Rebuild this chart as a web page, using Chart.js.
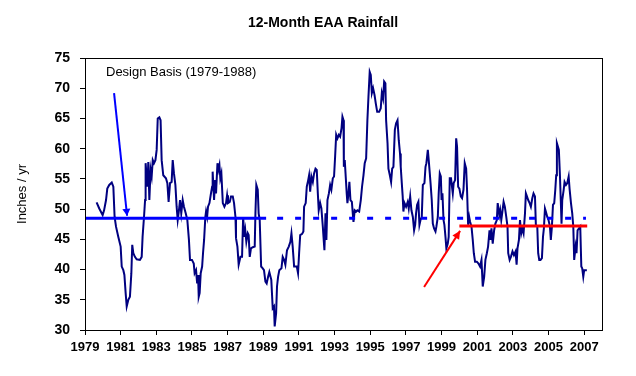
<!DOCTYPE html>
<html><head><meta charset="utf-8">
<script src="https://cdn.jsdelivr.net/npm/chart.js@4"></script>
<style>html,body{margin:0;padding:0;background:#fff}#wrap{width:636px;height:376px}</style>
</head><body><div id="wrap"><canvas id="c" width="636" height="376"></canvas></div>
<script>
const chartTitle = '12-Month EAA Rainfall';
const yAxisTitle = 'Inches / yr';
const noteText = 'Design Basis (1979-1988)';
const xTickYears = [1979,1981,1983,1985,1987,1989,1991,1993,1995,1997,1999,2001,2003,2005,2007];
const yMin = 30, yMax = 75, yStep = 5;

const sampleYears = [
1979.65,1979.80,1979.99,1980.07,1980.18,1980.25,1980.36,1980.50,1980.59,1980.66,1980.74,1980.87,1981.00,1981.06,1981.15,1981.21,1981.28,1981.34,1981.43,1981.52,1981.60,1981.65,1981.71,1981.80,1981.90,1982.08,1982.18,1982.23,1982.31,1982.37,1982.40,1982.50,1982.55,1982.61,1982.68,1982.74,1982.80,1982.87,1982.95,1983.02,1983.08,1983.17,1983.24,1983.30,1983.39,1983.54,1983.62,1983.69,1983.77,1983.86,1983.92,1983.99,1984.07,1984.14,1984.20,1984.27,1984.33,1984.40,1984.48,1984.55,1984.65,1984.74,1984.83,1984.89,1985.00,
1985.10,1985.15,1985.23,1985.29,1985.34,1985.38,1985.43,1985.49,1985.57,1985.62,1985.68,1985.75,1985.79,1985.85,1985.90,1985.98,1986.05,1986.13,1986.16,1986.24,1986.30,1986.35,1986.43,1986.48,1986.54,1986.59,1986.65,1986.73,1986.82,1986.91,1986.97,1987.02,1987.12,1987.19,1987.29,1987.36,1987.44,1987.47,1987.55,1987.62,1987.72,1987.81,1987.87,1987.94,1987.99,1988.05,1988.13,1988.18,1988.24,1988.31,1988.41,1988.52,1988.56,1988.61,1988.69,1988.74,1988.80,1988.88,1988.97,1989.04,1989.12,1989.19,1989.27,1989.34,1989.45,1989.53,1989.60,1989.64,1989.72,1989.77,1989.83,1989.90,1990.02,1990.09,1990.17,1990.24,1990.33,1990.43,1990.52,1990.58,1990.65,1990.73,1990.88,1990.95,
1991.01,1991.07,1991.18,1991.25,1991.29,1991.38,1991.44,1991.52,1991.57,1991.63,1991.70,1991.78,1991.85,1991.93,1992.00,1992.06,1992.11,1992.19,1992.26,1992.34,1992.39,1992.43,1992.49,1992.54,1992.60,1992.68,1992.75,1992.82,1992.90,1992.97,1993.03,1993.09,1993.16,1993.24,1993.31,1993.39,1993.44,1993.50,1993.52,1993.57,1993.63,1993.68,1993.72,1993.78,1993.83,1993.89,1993.97,1994.02,1994.06,1994.13,1994.21,1994.28,1994.38,1994.47,1994.54,1994.62,1994.69,1994.77,1994.84,1994.90,1994.97,1995.03,1995.09,1995.16,1995.24,1995.31,1995.39,1995.50,1995.59,1995.65,1995.72,1995.78,1995.85,1995.89,1995.97,1996.02,1996.10,1996.17,1996.23,1996.30,1996.38,1996.45,1996.53,1996.60,1996.67,1996.71,1996.77,1996.82,1996.86,1996.92,
1997.01,1997.10,1997.16,1997.24,1997.31,1997.39,1997.46,1997.52,1997.57,1997.63,1997.70,1997.76,1997.82,1997.89,1997.95,1998.04,1998.10,1998.15,1998.23,1998.28,1998.34,1998.39,1998.45,1998.51,1998.58,1998.66,1998.71,1998.79,1998.84,1998.90,1998.96,1999.00,1999.05,1999.11,1999.16,1999.22,1999.27,1999.35,1999.40,1999.46,1999.53,1999.63,1999.68,1999.76,1999.82,1999.87,1999.93,2000.00,2000.08,2000.15,2000.23,2000.30,2000.38,2000.43,2000.49,2000.55,2000.60,2000.68,2000.75,2000.81,2000.88,2000.98,2001.07,2001.16,2001.24,2001.31,2001.39,2001.46,2001.54,2001.61,2001.69,2001.74,2001.80,2001.87,2001.95,2002.02,2002.10,2002.15,
2002.24,2002.29,2002.35,2002.40,2002.48,2002.55,2002.63,2002.70,2002.74,2002.82,2002.89,2002.98,2003.06,2003.15,2003.21,2003.26,2003.34,2003.40,2003.47,2003.53,2003.60,2003.68,2003.73,2003.79,2003.86,2003.94,2004.01,2004.09,2004.16,2004.24,2004.29,2004.37,2004.42,2004.48,2004.55,2004.63,2004.69,2004.74,2004.80,2004.85,2004.93,2005.00,2005.08,2005.13,2005.19,2005.25,2005.32,2005.38,2005.43,2005.47,2005.53,2005.58,2005.64,2005.70,2005.73,2005.77,2005.85,2005.90,2005.98,2006.05,2006.13,2006.18,2006.26,2006.33,2006.39,2006.44,2006.52,2006.57,2006.63,2006.71,2006.78,2006.84,2006.89,2006.95,2007.00,2007.08,2007.15
];
const rainfall = [
51.1,50.1,49.0,49.8,51.5,53.4,54.0,54.4,53.7,48.7,47.1,45.4,43.8,40.5,39.9,39.1,36.1,33.9,35.0,35.5,39.4,44.1,42.7,42.1,41.7,41.6,42.1,45.4,48.7,51.5,57.6,53.7,57.8,51.5,56.5,55.4,58.1,57.6,58.1,59.8,65.0,65.2,64.7,58.1,55.6,55.1,54.3,51.2,54.3,54.5,58.1,55.9,54.0,50.4,48.2,49.8,51.5,49.3,51.5,50.4,49.3,48.2,44.9,41.6,41.6,
41.0,39.4,39.9,37.7,39.1,35.5,36.1,39.4,40.5,42.7,44.9,48.7,49.6,48.7,50.4,51.0,52.3,53.7,56.2,51.5,54.8,52.6,57.6,56.5,57.3,55.1,55.9,51.0,50.4,51.0,52.3,51.0,51.2,52.1,52.1,51.0,48.7,45.2,43.8,40.8,42.1,42.1,48.7,45.4,46.5,44.6,46.0,45.7,42.1,43.5,43.7,43.8,49.3,54.0,53.2,49.3,48.2,40.5,40.2,39.9,38.0,37.7,38.8,39.6,38.3,33.6,33.9,30.6,32.8,37.2,38.8,39.9,40.2,42.1,41.6,40.8,43.2,43.8,44.6,46.0,43.8,40.5,40.5,39.4,
42.7,45.7,45.9,46.3,50.4,51.0,53.7,54.8,55.6,52.9,55.4,54.5,55.9,56.7,56.5,52.6,49.8,51.0,50.1,47.1,44.9,43.2,49.3,44.9,51.5,52.6,54.0,53.2,55.1,55.4,58.7,62.3,61.7,62.3,62.0,63.4,65.3,64.7,57.0,58.1,55.1,52.6,51.0,52.6,54.5,51.5,51.2,49.3,47.9,49.8,49.6,49.8,49.6,51.5,53.7,55.6,57.6,58.4,64.7,68.6,72.7,72.2,69.2,70.0,68.9,67.5,66.1,66.1,66.7,69.2,68.3,71.1,70.8,64.7,60.9,56.7,55.6,54.5,56.7,57.0,63.1,64.2,64.7,61.4,59.2,57.0,54.3,52.1,49.6,51.0,
50.4,51.2,50.1,52.1,49.8,48.7,46.5,47.4,49.3,50.7,51.2,47.4,48.2,48.7,54.0,54.3,57.0,57.6,59.8,58.1,55.9,54.0,51.5,47.6,46.8,46.3,47.1,48.7,52.6,55.9,55.4,51.5,52.6,48.2,47.4,45.4,43.5,44.3,45.4,55.1,55.1,52.6,54.3,54.8,61.7,60.3,53.7,53.4,52.1,51.8,53.2,57.6,56.7,53.2,47.4,48.7,47.9,47.1,44.9,42.7,41.3,41.3,41.0,40.5,41.6,37.2,38.8,41.6,42.7,43.8,46.5,44.9,46.8,44.3,46.5,47.6,48.2,51.0,
49.0,49.8,48.2,49.3,51.2,50.4,48.7,47.1,42.7,41.6,42.1,43.0,42.4,43.0,40.8,43.5,44.9,48.2,46.0,46.8,46.0,49.3,52.6,52.1,51.5,51.0,50.4,51.8,52.6,52.1,47.4,47.1,42.7,41.6,41.6,41.9,45.4,46.8,50.1,49.6,48.7,48.2,47.1,44.9,47.1,50.7,51.0,53.2,55.6,60.9,60.3,59.8,55.6,50.4,47.6,51.5,53.2,54.5,54.0,54.3,55.4,53.4,51.0,49.3,47.1,41.6,43.8,42.7,46.5,46.8,47.1,40.5,40.2,38.8,39.9,39.9,39.9
];

const designBasis = 48.5;
const designSolidYears = [1979, 1989.16];
const designDashedYears = [1989.16, 2007.1];
const recentAverage = 47.2;
const recentYears = [2000.0, 2007.17];
const blueArrowYears = [1980.63, 1981.36];
const blueArrowValues = [69.2, 48.9];
const redArrowYears = [1998.02, 2000.04];
const redArrowValues = [37.1, 46.4];

const FONT = "'Liberation Sans', Arial, sans-serif";

const pts = (xs, ys) => xs.map((x, i) => ({x, y: Array.isArray(ys) ? ys[i] : ys}));

const decor = {
  id: 'decor',
  afterDatasetsDraw(chart) {
    const {ctx} = chart;
    const xs = chart.scales.x, ys = chart.scales.y;
    const head = (xArr, yArr, color, len, half) => {
      const x1 = xs.getPixelForValue(xArr[0]), y1 = ys.getPixelForValue(yArr[0]);
      const x2 = xs.getPixelForValue(xArr[1]), y2 = ys.getPixelForValue(yArr[1]);
      const ang = Math.atan2(y2 - y1, x2 - x1);
      ctx.save();
      ctx.fillStyle = color;
      ctx.translate(x2, y2); ctx.rotate(ang);
      ctx.beginPath(); ctx.moveTo(0, 0); ctx.lineTo(-len, -half); ctx.lineTo(-len, half); ctx.closePath(); ctx.fill();
      ctx.restore();
    };
    head(blueArrowYears, blueArrowValues, '#0000FF', 7, 4);
    head(redArrowYears, redArrowValues, '#FF0000', 8, 4);
  },
  afterDraw(chart) {
    const {ctx, chartArea: a} = chart;
    ctx.save();
    ctx.strokeStyle = '#000'; ctx.lineWidth = 1;
    ctx.strokeRect(Math.round(a.left) + 0.5, Math.round(a.top) + 0.5, Math.round(a.right - a.left), Math.round(a.bottom - a.top));
    ctx.fillStyle = '#000';
    ctx.font = "bold 14px " + FONT;
    ctx.textAlign = 'center'; ctx.textBaseline = 'middle';
    ctx.fillText(chartTitle, 323, 23);
    ctx.font = "13px " + FONT;
    ctx.textAlign = 'left';
    ctx.fillText(noteText, a.left + 21, a.top + 14);
    ctx.translate(22, (a.top + a.bottom) / 2);
    ctx.rotate(-Math.PI / 2);
    ctx.textAlign = 'center';
    ctx.fillText(yAxisTitle, 0, 0);
    ctx.restore();
  }
};

new Chart(document.getElementById('c'), {
  type: 'line',
  data: {
    datasets: [
      {data: pts(redArrowYears, redArrowValues), borderColor: '#FF0000', borderWidth: 2},
      {data: pts(blueArrowYears, blueArrowValues), borderColor: '#0000FF', borderWidth: 2},
      {data: pts(recentYears, recentAverage), borderColor: '#FF0000', borderWidth: 3},
      {data: pts(designSolidYears, designBasis), borderColor: '#0000FF', borderWidth: 3},
      {data: pts(designDashedYears, designBasis), borderColor: '#0000FF', borderWidth: 3, borderDash: [6, 12], borderDashOffset: -11},
      {data: pts(sampleYears, rainfall), borderColor: '#000080', borderWidth: 2}
    ]
  },
  options: {
    responsive: false,
    animation: false,
    devicePixelRatio: 1,
    layout: {padding: {left: 0, right: 34, top: 58, bottom: 0}},
    elements: {point: {radius: 0}, line: {tension: 0, fill: false, borderCapStyle: 'butt'}},
    plugins: {legend: {display: false}, tooltip: {enabled: false}, title: {display: false}},
    scales: {
      x: {
        type: 'linear', min: 1979, max: 2008,
        afterBuildTicks: s => { s.ticks = xTickYears.map(v => ({value: v})); },
        afterFit: s => { s.height = 46; },
        grid: {display: true, drawOnChartArea: false, drawTicks: true, tickLength: 5, color: '#000'},
        border: {display: true, color: '#000', width: 1},
        ticks: {autoSkip: false, maxRotation: 0, padding: 5, color: '#000', font: {family: FONT, weight: 'bold', size: 13}, callback: v => String(v)}
      },
      y: {
        min: yMin, max: yMax,
        afterFit: s => { s.width = 85; },
        grid: {display: true, drawOnChartArea: false, drawTicks: true, tickLength: 5, color: '#000'},
        border: {display: true, color: '#000', width: 1},
        ticks: {stepSize: yStep, padding: 10, color: '#000', font: {family: FONT, weight: 'bold', size: 14}, callback: v => String(v)}
      }
    }
  },
  plugins: [decor]
});
</script>
</body></html>
